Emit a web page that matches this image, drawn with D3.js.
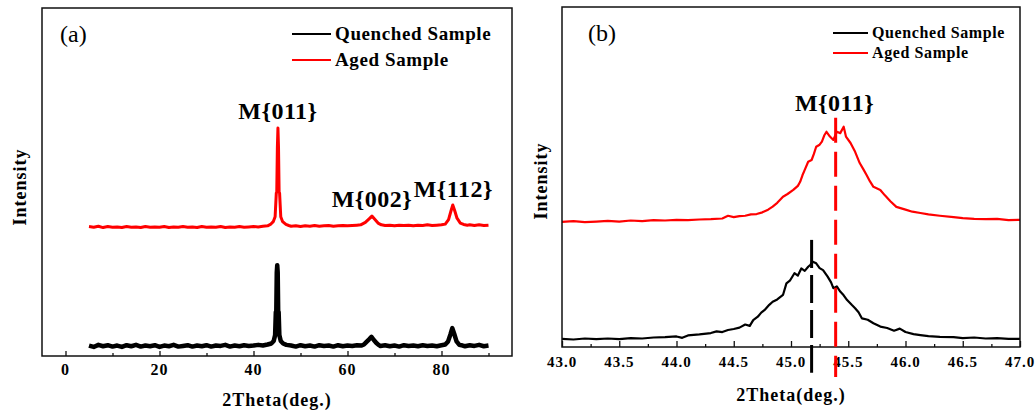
<!DOCTYPE html>
<html>
<head>
<meta charset="utf-8">
<script src="https://cdnjs.cloudflare.com/ajax/libs/d3/7.8.5/d3.min.js"></script>
<style>
  body { margin: 0; background: #fff; }
  text { font-family: "Liberation Serif", "Times New Roman", serif; }
</style>
</head>
<body>
<svg id="chart" width="1036" height="413"></svg>
<script>
// panel (a): full scan, 2theta vs intensity (a.u.)
const quenchedA = [
  [5,3.0],[6,2.6],[7,3.2],[8,2.8],[9,3.1],[10,2.7],[11,3.0],[12,2.6],[13,3.1],[14,2.8],
  [15,3.2],[16,2.7],[17,3.0],[18,2.8],[19,3.1],[20,2.6],[21,3.0],[22,2.8],[23,3.2],[24,2.7],
  [25,2.9],[26,3.1],[27,2.7],[28,3.0],[29,2.8],[30,3.1],[31,2.7],[32,3.0],[33,2.9],[34,3.2],
  [35,2.7],[36,3.0],[37,2.8],[38,3.1],[39,2.9],[40,3.0],[41,3.2],[42,3.0],[43,3.3],[43.8,3.6],
  [44.3,4.3],[44.6,6.0],[44.75,12.6],[44.85,13.0],[44.95,24.0],[45.05,26.1],[45.15,24.0],
  [45.25,13.0],[45.35,12.6],[45.5,6.0],[45.8,4.3],[46.3,3.6],[47,3.2],[48,3.0],[49,2.7],
  [50,3.1],[51,2.8],[52,3.0],[53,2.7],[54,3.1],[55,2.9],[56,3.0],[57,2.7],[58,3.1],[59,2.8],
  [60,3.0],[61,2.9],[62,3.1],[63,3.0],[63.5,3.3],[64,4.0],[64.6,4.8],[65.1,5.5],[65.6,4.6],
  [66.1,3.8],[66.6,3.2],[67,2.9],[68,3.1],[69,2.8],[70,3.0],[71,2.7],[72,3.1],[73,2.9],
  [74,3.0],[75,2.8],[76,3.1],[77,2.9],[78,3.0],[79,2.8],[80,3.1],[80.8,3.3],[81.4,4.2],
  [81.9,6.2],[82.3,8.0],[82.7,6.4],[83.2,4.2],[83.8,3.2],[84.5,3.0],[85,2.8],[86,3.1],
  [87,2.9],[88,3.2],[89,2.8],[90,3.0]
]
const agedA = [
  [5,37.2],[6,37.0],[7,37.3],[8,36.9],[9,37.2],[10,37.0],[11,37.1],[12,36.9],[13,37.2],[14,37.0],
  [15,37.1],[16,36.9],[17,37.2],[18,37.0],[19,37.1],[20,37.0],[21,37.2],[22,36.9],[23,37.1],[24,37.0],
  [25,37.2],[26,37.0],[27,37.1],[28,36.9],[29,37.2],[30,37.0],[31,37.1],[32,37.0],[33,37.2],[34,36.9],
  [35,37.1],[36,37.0],[37,37.2],[38,37.0],[39,37.1],[40,37.2],[41,37.1],[42,37.3],[43,37.4],[43.6,37.8],
  [44.2,38.6],[44.6,40.0],[44.85,46.8],[44.95,47.0],[45.08,60.0],[45.2,65.5],[45.32,60.0],
  [45.45,47.0],[45.55,46.8],[45.8,40.0],[46.2,38.6],[46.9,37.8],[47.5,37.5],[48,37.3],
  [49,37.4],[50,37.2],[51,37.4],[52,37.3],[53,37.5],[54,37.3],[55,37.4],[56,37.5],[57,37.3],
  [58,37.4],[59,37.5],[60,37.4],[61,37.5],[62,37.6],[62.8,37.7],[63.8,38.4],[64.6,39.4],
  [65.2,40.2],[65.8,39.3],[66.5,38.2],[67.2,37.7],[68,37.5],[69,37.6],[70,37.4],[71,37.6],
  [72,37.5],[73,37.6],[74,37.4],[75,37.6],[76,37.5],[77,37.7],[78,37.5],[79,37.6],[80,37.7],
  [80.8,37.9],[81.5,39.2],[82.0,41.6],[82.4,43.4],[82.8,41.8],[83.3,39.6],[84.0,38.2],
  [84.7,37.8],[85.5,37.6],[86,37.7],[87,37.5],[88,37.7],[89,37.5],[90,37.6]
]
const peakLabelsA = [
  {text: 'M{011}', x: 45.2, y: 68},
  {text: 'M{002}', x: 65.2, y: 42.7},
  {text: 'M{112}', x: 82.5, y: 45.6}
]
const ticksA = [0, 20, 40, 60, 80]
const minorTicksA = [10, 30, 50, 70, 90]

// panel (b): zoom on the M{011} reflection
const quenchedB = [
  [43.0,2.4],[43.1,2.2],[43.2,2.5],[43.3,2.3],[43.4,2.5],[43.5,2.3],[43.6,2.6],[43.7,2.5],
  [43.8,2.8],[43.9,2.9],[44.0,3.1],[44.05,2.7],[44.1,3.4],[44.2,3.7],[44.3,4.1],[44.35,4.6],
  [44.4,4.4],[44.45,5.0],[44.5,5.3],[44.55,5.7],[44.6,6.6],[44.64,6.2],[44.67,7.9],[44.71,8.9],
  [44.74,10.1],[44.77,10.9],[44.81,12.4],[44.84,13.3],[44.88,14.0],[44.93,15.3],[44.96,18.7],
  [44.99,19.5],[45.03,21.7],[45.06,21.0],[45.09,23.1],[45.12,22.4],[45.15,23.6],[45.17,24.2],
  [45.19,25.1],[45.22,24.6],[45.25,23.2],[45.28,22.6],[45.32,20.7],[45.35,19.0],[45.37,17.3],
  [45.40,17.8],[45.43,16.3],[45.46,15.2],[45.49,13.8],[45.53,12.4],[45.56,11.4],[45.59,10.2],
  [45.62,8.4],[45.67,8.0],[45.72,7.0],[45.78,6.0],[45.84,5.6],[45.9,4.8],[45.95,5.4],[46.0,4.4],
  [46.07,3.8],[46.13,3.5],[46.2,3.2],[46.3,3.0],[46.42,2.9],[46.5,2.6],[46.6,2.8],[46.7,2.5],
  [46.8,2.6],[46.9,2.4],[47.0,2.4]
]
const agedB = [
  [43.0,36.8],[43.1,37.0],[43.2,36.7],[43.3,36.9],[43.4,37.1],[43.5,36.9],[43.6,37.2],[43.7,37.0],
  [43.8,37.3],[43.9,37.2],[44.0,37.4],[44.1,37.3],[44.2,37.5],[44.3,37.6],[44.4,37.8],[44.45,38.6],
  [44.5,38.2],[44.55,38.5],[44.6,38.6],[44.65,39.0],[44.7,39.1],[44.75,39.6],[44.8,40.4],
  [44.84,41.3],[44.88,42.4],[44.93,44.2],[44.97,45.0],[45.02,46.2],[45.06,47.4],[45.08,48.6],
  [45.1,50.5],[45.12,52.1],[45.15,54.5],[45.18,55.0],[45.2,56.8],[45.22,58.9],[45.25,59.5],
  [45.27,60.4],[45.29,62.2],[45.31,63.3],[45.34,61.9],[45.37,60.9],[45.40,63.3],[45.43,62.9],
  [45.46,64.8],[45.48,61.9],[45.52,60.0],[45.56,57.4],[45.6,54.1],[45.63,52.4],[45.66,50.6],
  [45.69,48.7],[45.72,47.1],[45.78,46.2],[45.82,44.6],[45.87,42.8],[45.92,41.2],[46.0,40.4],
  [46.06,39.8],[46.13,39.4],[46.2,39.0],[46.3,38.6],[46.42,38.2],[46.5,37.9],[46.6,37.7],
  [46.7,37.6],[46.8,37.7],[46.9,37.3],[47.0,37.4]
]
// peak position markers (dashed), x in deg, y span in intensity units
const peakMarksB = [
  {x: 45.18, top: 31.5, bottom: -7.6, color: '#000', dash: '28,7'},
  {x: 45.39, top: 67.4, bottom: -8.8, color: '#ff0000', dash: '25,9'}
]
const ticksB = [43.0, 43.5, 44.0, 44.5, 45.0, 45.5, 46.0, 46.5, 47.0]
const minorTicksB = [43.25, 43.75, 44.25, 44.75, 45.25, 45.75, 46.25, 46.75]

const series = ['Quenched Sample', 'Aged Sample']
const colors = ['#000000', '#ff0000']

const svg = d3.select('#chart')

function panel(opt) {
  const {x0, x1, y0, y1} = opt
  const g = svg.append('g')
  const xScale = d3.scaleLinear().domain(opt.xDomain).range([x0, x1])
  const yScale = d3.scaleLinear().domain([0, 100]).range([y1, y0])

  // ticks, drawn inward; labels added below
  g.append('g')
    .attr('transform', `translate(0,${y1})`)
    .call(d3.axisBottom(xScale).tickValues(opt.minor).tickFormat(() => '').tickSizeInner(-3).tickSizeOuter(0))
    .call(a => a.select('.domain').remove())
  g.append('g')
    .attr('transform', `translate(0,${y1})`)
    .call(d3.axisBottom(xScale).tickValues(opt.ticks).tickFormat(() => '')
      .tickSizeInner(opt.majorLen).tickSizeOuter(0))
    .call(a => a.select('.domain').remove())
  g.selectAll('.tick line').attr('stroke', '#111').attr('stroke-width', 1.3)

  g.append('g').selectAll('text')
    .data(opt.ticks)
    .enter()
    .append('text')
    .attr('x', d => xScale(d))
    .attr('y', y1 + opt.labelDy)
    .attr('text-anchor', 'middle')
    .style('font-size', opt.tickFont + 'px')
    .style('font-weight', 'bold')
    .style('letter-spacing', '1px')
    .text(opt.fmt)

  const line = d3.line().x(d => xScale(d[0])).y(d => yScale(d[1]))

  g.append('defs').append('clipPath').attr('id', 'clip' + opt.id)
    .append('rect').attr('x', x0).attr('y', y0).attr('width', x1 - x0).attr('height', y1 - y0)

  const plot = g.append('g').attr('clip-path', `url(#clip${opt.id})`)
  opt.data.forEach((d, i) => {
    plot.append('path')
      .datum(d)
      .attr('fill', 'none')
      .attr('stroke', colors[i])
      .attr('stroke-width', opt.widths[i])
      .attr('stroke-linejoin', 'round')
      .attr('d', line)
  })

  // frame
  g.append('rect')
    .attr('x', x0).attr('y', y0)
    .attr('width', x1 - x0).attr('height', y1 - y0)
    .attr('fill', 'none').attr('stroke', '#111').attr('stroke-width', 1.5)

  // legend
  series.forEach((s, i) => {
    const ly = opt.legY + i * opt.legGap
    g.append('line')
      .attr('x1', opt.legX).attr('x2', opt.legX + opt.legLen)
      .attr('y1', ly).attr('y2', ly)
      .attr('stroke', colors[i]).attr('stroke-width', 2)
    g.append('text')
      .attr('x', opt.legX + opt.legLen + 4).attr('y', ly + opt.legFont * 0.33)
      .style('font-size', opt.legFont + 'px').style('font-weight', 'bold')
      .style('letter-spacing', '0.6px')
      .text(s)
  })

  g.append('text')
    .attr('x', x0 + opt.tagDx).attr('y', y0 + 34)
    .style('font-size', '24px')
    .text(opt.tag)

  // axis titles
  g.append('text')
    .attr('x', (x0 + x1) / 2).attr('y', opt.xTitleY)
    .attr('text-anchor', 'middle')
    .style('font-size', '18px').style('font-weight', 'bold').style('letter-spacing', '1px')
    .text('2Theta(deg.)')
  g.append('text')
    .attr('transform', `translate(${opt.yTitleX},${opt.yTitleY}) rotate(-90)`)
    .attr('text-anchor', 'middle')
    .style('font-size', '18px').style('font-weight', 'bold').style('letter-spacing', '1px')
    .text('Intensity')

  return {g, xScale, yScale}
}

// (a)
const pa = panel({
  id: 'a', x0: 42, x1: 512, y0: 8, y1: 356, xDomain: [-5, 95],
  ticks: ticksA, minor: minorTicksA, fmt: d3.format('d'), majorLen: -5, labelDy: 19, tickFont: 16,
  data: [quenchedA, agedA], widths: [4.5, 3],
  legX: 292, legY: 34, legGap: 26, legLen: 39, legFont: 19,
  tag: '(a)', tagDx: 18, xTitleY: 406, yTitleX: 26, yTitleY: 187
})
pa.g.selectAll('.peak')
  .data(peakLabelsA)
  .enter()
  .append('text')
  .attr('x', d => pa.xScale(d.x))
  .attr('y', d => pa.yScale(d.y))
  .attr('text-anchor', 'middle')
  .style('font-size', '24px').style('font-weight', 'bold').style('letter-spacing', '0.5px')
  .text(d => d.text)

// (b)
const pb = panel({
  id: 'b', x0: 562, x1: 1020, y0: 7, y1: 347, xDomain: [43, 47],
  ticks: ticksB, minor: minorTicksB, fmt: d3.format('.1f'), majorLen: -6, labelDy: 20, tickFont: 15,
  data: [quenchedB, agedB], widths: [2.2, 2.2],
  legX: 833, legY: 33, legGap: 20, legLen: 35, legFont: 16,
  tag: '(b)', tagDx: 26, xTitleY: 401, yTitleX: 547, yTitleY: 181
})
pb.g.selectAll('.mark')
  .data(peakMarksB)
  .enter()
  .append('line')
  .attr('x1', d => pb.xScale(d.x)).attr('x2', d => pb.xScale(d.x))
  .attr('y1', d => pb.yScale(d.top)).attr('y2', d => pb.yScale(d.bottom))
  .attr('stroke', d => d.color).attr('stroke-width', 3)
  .attr('stroke-dasharray', d => d.dash)
pb.g.append('text')
  .attr('x', pb.xScale(45.38)).attr('y', pb.yScale(69.4))
  .attr('text-anchor', 'middle')
  .style('font-size', '24px').style('font-weight', 'bold').style('letter-spacing', '0.5px')
  .text('M{011}')
</script>
</body>
</html>
